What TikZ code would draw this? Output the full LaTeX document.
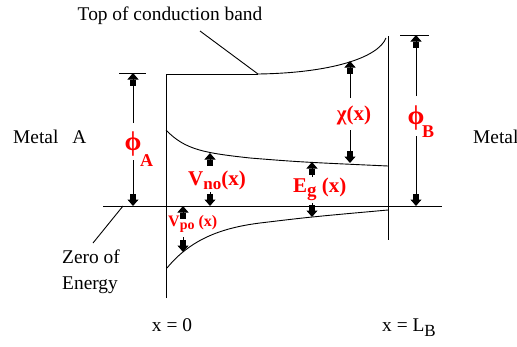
\documentclass[tikz,border=0pt]{standalone}
\usepackage{fontspec}
\setmainfont{Liberation Serif}
\usetikzlibrary{arrows.meta}
\begin{document}
\begin{tikzpicture}[x=1pt,y=-1pt,
  txt/.style={inner sep=0pt, font=\fontsize{19.4}{26}\selectfont},
  rtxt/.style={inner sep=0pt, text=red, font=\fontsize{21}{24}\selectfont\bfseries},
  rsmall/.style={inner sep=0pt, text=red, font=\fontsize{16}{18}\selectfont\bfseries},
  phisym/.style={inner sep=0pt, text=red, font=\fontsize{27}{30}\selectfont\bfseries},
  rsub/.style={inner sep=0pt, text=red, font=\fontsize{18}{20}\selectfont\bfseries},
  lin/.style={line width=1pt},
  band/.style={line width=0.9pt},
  blk/.style={line width=1pt, -{Rectangle[width=6pt,length=6pt]Triangle[width=11pt,length=6.5pt]}},
]
\useasboundingbox (0,0) rectangle (517,346);

% coordinates of the frame
\coordinate (zl) at (103,206);
\coordinate (zr) at (442,206);
\coordinate (lt) at (166,74);
\coordinate (lb) at (166,298);
\coordinate (rt) at (388,36);
\coordinate (rb) at (388,240);
\coordinate (tcs) at (258,74);
\coordinate (tce) at (386,38);

% frame lines
\draw[lin] (zl) -- (zr);
\draw[lin] (lb) -- (lt) -- (tcs);
\draw[lin] (rt) -- (rb);

% bands
\draw[band] (tcs) .. controls (330,73) and (378,58) .. (tce);
\draw[band] (166,130) .. controls (185,150) and (205,153) .. (250,158) .. controls (300,162) .. (388,166);
\draw[band] (167,268) .. controls (190,240) and (220,228) .. (260,223) .. controls (310,217) .. (388,210);

% texts
\node[txt] (title) at (170,16) {Top of conduction band};
\coordinate (tptr) at (200,31);
\draw[band] (tptr) -- (tcs);
\node[txt, anchor=west] (metA) at (13,137) {Metal\hspace{14pt}A};
\node[txt, anchor=west] (metB) at (473,137) {Metal};
\node[txt, anchor=north west, align=left] (zero) at (62,250) {Zero of\\Energy};
\coordinate (zptr) at (93,243);
\coordinate (zpt) at (123,206);
\draw[band] (zptr) -- (zpt);
\node[txt, anchor=base] (x0) at (172,331) {x = 0};
\node[txt, anchor=base west] (xLB) at (382,331) {x = L\raisebox{-5pt}{\fontsize{17}{17}\selectfont B}};

% phi_A
\coordinate (tA1) at (119,73);
\coordinate (tA2) at (146,73);
\draw[lin] (tA1) -- (tA2);
\node[phisym] (phiA) at (133,144) {ϕ};
\node[rsub, anchor=base west] (phiAs) at (140,166) {A};
\draw[blk] (133,123) -- (133,73);
\draw[blk] (133,160) -- (133,206);

% phi_B
\coordinate (tB1) at (400,35);
\coordinate (tB2) at (429,35);
\draw[lin] (tB1) -- (tB2);
\node[phisym] (phiB) at (416,118) {ϕ};
\node[rsub, anchor=base west] (phiBs) at (422,137) {B};
\draw[blk] (416,96) -- (416,35);
\draw[blk] (416,136) -- (416,206);

% chi
\node[rtxt] (chi) at (354,115) {χ(x)};
\draw[blk] (350,98) -- (350,61);
\draw[blk] (350,130) -- (350,163);

% V_no
\node[rtxt, anchor=west] (vno) at (188,180) {V\raisebox{-4pt}{\fontsize{17}{17}\selectfont no}(x)};
\draw[blk] (210,166) -- (210,153);
\draw[blk] (210,192) -- (210,206);

% E_g
\node[rtxt, anchor=west] (eg) at (293,189) {E\raisebox{-4pt}{\fontsize{19}{19}\selectfont g} (x)};
\draw[blk] (312,177) -- (312,162);
\draw[blk] (312,203) -- (312,217);

% V_po
\node[rsmall, anchor=west] (vpo) at (168,224) {V\raisebox{-3pt}{\fontsize{14}{14}\selectfont po} (x)};
\draw[blk] (183,217) -- (183,206);
\draw[blk] (183,237) -- (183,252);
\end{tikzpicture}
\end{document}
